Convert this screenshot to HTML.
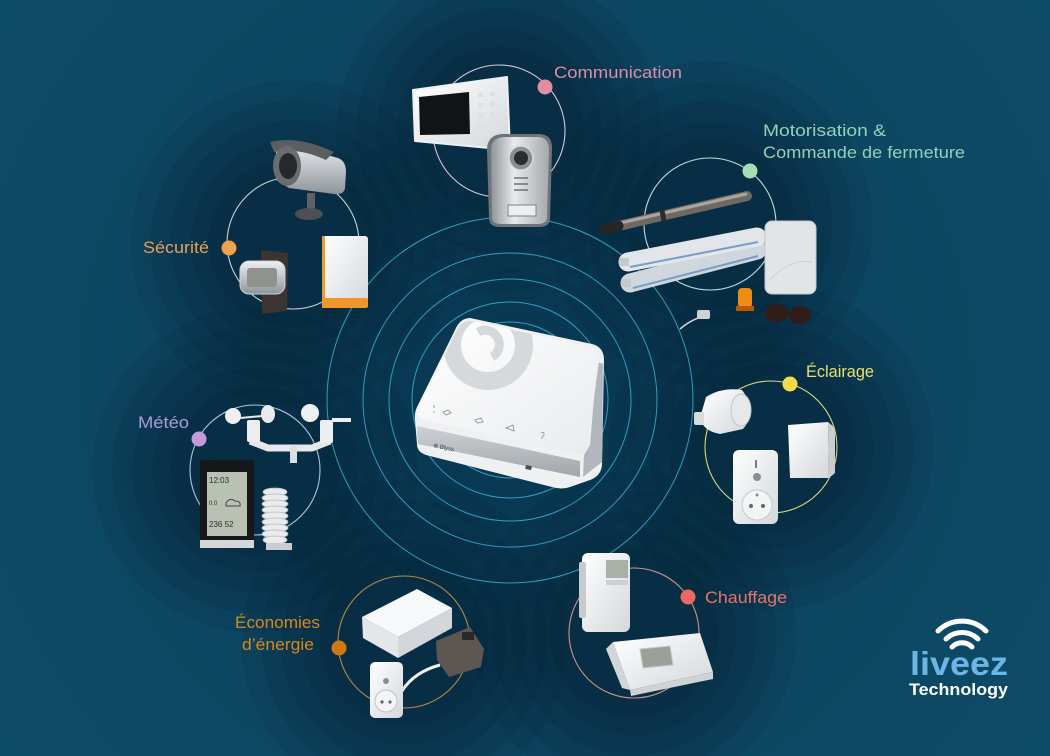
<!DOCTYPE html>
<html><head><meta charset="utf-8">
<style>
html,body{margin:0;padding:0;width:1050px;height:756px;overflow:hidden;}
body{
background:
 radial-gradient(circle at 499px 131px, rgba(0,26,44,.16) 84px, rgba(0,26,44,0) 85px),
 radial-gradient(circle at 499px 131px, rgba(0,26,44,.15) 102px, rgba(0,26,44,0) 103px),
 radial-gradient(circle at 499px 131px, rgba(0,26,44,.14) 122px, rgba(0,26,44,0) 123px),
 radial-gradient(circle at 499px 131px, rgba(0,26,44,.13) 142px, rgba(0,26,44,0) 143px),
 radial-gradient(circle at 499px 131px, rgba(0,26,44,.12) 162px, rgba(0,26,44,0) 163px),
 radial-gradient(circle at 293px 243px, rgba(0,26,44,.16) 84px, rgba(0,26,44,0) 85px),
 radial-gradient(circle at 293px 243px, rgba(0,26,44,.15) 102px, rgba(0,26,44,0) 103px),
 radial-gradient(circle at 293px 243px, rgba(0,26,44,.14) 122px, rgba(0,26,44,0) 123px),
 radial-gradient(circle at 293px 243px, rgba(0,26,44,.13) 142px, rgba(0,26,44,0) 143px),
 radial-gradient(circle at 293px 243px, rgba(0,26,44,.12) 162px, rgba(0,26,44,0) 163px),
 radial-gradient(circle at 710px 224px, rgba(0,26,44,.16) 84px, rgba(0,26,44,0) 85px),
 radial-gradient(circle at 710px 224px, rgba(0,26,44,.15) 102px, rgba(0,26,44,0) 103px),
 radial-gradient(circle at 710px 224px, rgba(0,26,44,.14) 122px, rgba(0,26,44,0) 123px),
 radial-gradient(circle at 710px 224px, rgba(0,26,44,.13) 142px, rgba(0,26,44,0) 143px),
 radial-gradient(circle at 710px 224px, rgba(0,26,44,.12) 162px, rgba(0,26,44,0) 163px),
 radial-gradient(circle at 771px 447px, rgba(0,26,44,.16) 84px, rgba(0,26,44,0) 85px),
 radial-gradient(circle at 771px 447px, rgba(0,26,44,.15) 102px, rgba(0,26,44,0) 103px),
 radial-gradient(circle at 771px 447px, rgba(0,26,44,.14) 122px, rgba(0,26,44,0) 123px),
 radial-gradient(circle at 771px 447px, rgba(0,26,44,.13) 142px, rgba(0,26,44,0) 143px),
 radial-gradient(circle at 771px 447px, rgba(0,26,44,.12) 162px, rgba(0,26,44,0) 163px),
 radial-gradient(circle at 255px 470px, rgba(0,26,44,.16) 84px, rgba(0,26,44,0) 85px),
 radial-gradient(circle at 255px 470px, rgba(0,26,44,.15) 102px, rgba(0,26,44,0) 103px),
 radial-gradient(circle at 255px 470px, rgba(0,26,44,.14) 122px, rgba(0,26,44,0) 123px),
 radial-gradient(circle at 255px 470px, rgba(0,26,44,.13) 142px, rgba(0,26,44,0) 143px),
 radial-gradient(circle at 255px 470px, rgba(0,26,44,.12) 162px, rgba(0,26,44,0) 163px),
 radial-gradient(circle at 404px 642px, rgba(0,26,44,.16) 84px, rgba(0,26,44,0) 85px),
 radial-gradient(circle at 404px 642px, rgba(0,26,44,.15) 102px, rgba(0,26,44,0) 103px),
 radial-gradient(circle at 404px 642px, rgba(0,26,44,.14) 122px, rgba(0,26,44,0) 123px),
 radial-gradient(circle at 404px 642px, rgba(0,26,44,.13) 142px, rgba(0,26,44,0) 143px),
 radial-gradient(circle at 404px 642px, rgba(0,26,44,.12) 162px, rgba(0,26,44,0) 163px),
 radial-gradient(circle at 634px 633px, rgba(0,26,44,.16) 84px, rgba(0,26,44,0) 85px),
 radial-gradient(circle at 634px 633px, rgba(0,26,44,.15) 102px, rgba(0,26,44,0) 103px),
 radial-gradient(circle at 634px 633px, rgba(0,26,44,.14) 122px, rgba(0,26,44,0) 123px),
 radial-gradient(circle at 634px 633px, rgba(0,26,44,.13) 142px, rgba(0,26,44,0) 143px),
 radial-gradient(circle at 634px 633px, rgba(0,26,44,.12) 162px, rgba(0,26,44,0) 163px),
 radial-gradient(circle at 510px 400px, rgba(0,26,44,.08) 130px, rgba(0,26,44,0) 131px),
 radial-gradient(circle at 510px 400px, rgba(0,26,44,.08) 165px, rgba(0,26,44,0) 166px),
 radial-gradient(circle at 510px 400px, rgba(0,26,44,.08) 205px, rgba(0,26,44,0) 206px),
 radial-gradient(circle at 525px 378px, #0b405b 0px, #0e4c68 700px);
background-color:#0d4864;
}
svg{display:block}
text{font-family:"Liberation Sans","DejaVu Sans",sans-serif;}
</style></head><body>
<svg width="1050" height="756" viewBox="0 0 1050 756" xmlns="http://www.w3.org/2000/svg">
<defs>
 <linearGradient id="wh" x1="0" y1="0" x2="1" y2="1"><stop offset="0" stop-color="#ffffff"/><stop offset="1" stop-color="#d3d8dc"/></linearGradient>
 <linearGradient id="sil" x1="0" y1="0" x2="0" y2="1"><stop offset="0" stop-color="#eef0f2"/><stop offset="0.5" stop-color="#bfc4c8"/><stop offset="1" stop-color="#8f9498"/></linearGradient>
 <linearGradient id="silh" x1="0" y1="0" x2="1" y2="0"><stop offset="0" stop-color="#8f9498"/><stop offset="0.4" stop-color="#e8eaec"/><stop offset="1" stop-color="#a4a9ad"/></linearGradient>
 <linearGradient id="band" x1="0" y1="0" x2="0" y2="1"><stop offset="0" stop-color="#cdd1d5"/><stop offset="1" stop-color="#a0a6ab"/></linearGradient>
 <linearGradient id="topg" x1="0" y1="0" x2="1" y2="1"><stop offset="0" stop-color="#ffffff"/><stop offset="1" stop-color="#e9ebed"/></linearGradient>
 <clipPath id="topclip"><path d="M472,321 L590,347 Q600,349 599,360 L588,445 Q586,456 575,454 L425,420 Q414,417 418,407 L457,330 Q462,320 472,321 Z"/></clipPath>
</defs>

<!-- central rings -->
<g fill="none" stroke="#3aaed0" stroke-width="1" stroke-opacity="0.85">
 <circle cx="510" cy="400" r="183"/>
 <circle cx="510" cy="400" r="147"/>
 <circle cx="510" cy="400" r="121"/>
 <circle cx="510" cy="400" r="98"/>
 <circle cx="510" cy="400" r="78"/>
</g>

<!-- group rings -->
<g fill="none" stroke-width="1.1">
 <circle cx="499" cy="131" r="66" stroke="#d6c8d6"/>
 <circle cx="293" cy="243" r="66" stroke="#cfd0ca"/>
 <circle cx="710" cy="224" r="66" stroke="#b8e0dc"/>
 <circle cx="771" cy="447" r="66" stroke="#d6dc7a"/>
 <circle cx="255" cy="470" r="65" stroke="#a8c6e2"/>
 <circle cx="404" cy="642" r="66" stroke="#b38a42"/>
 <circle cx="634" cy="633" r="65" stroke="#c8948e"/>
</g>

<!-- ===== Communication devices ===== -->
<polygon points="413,90 507,77 510,150 415,141" fill="url(#wh)" stroke="#eef0f2" stroke-width="2" stroke-linejoin="round"/>
<polygon points="419,97 469,92 470,134 420,135" fill="#121314"/>
<g fill="#dde1e4">
 <rect x="478" y="93" width="5" height="4"/><rect x="490" y="92" width="5" height="4"/>
 <rect x="478" y="103" width="5" height="4"/><rect x="490" y="102" width="5" height="4"/>
 <rect x="478" y="113" width="5" height="4"/><rect x="490" y="112" width="5" height="4"/>
 <rect x="478" y="123" width="5" height="4"/><rect x="490" y="122" width="5" height="4"/>
</g>
<path d="M487,150 Q487,135 502,134 L540,134 Q553,135 552,150 L550,220 Q549,227 538,227 L500,227 Q489,227 489,218 Z" fill="#6f7478"/>
<path d="M491,150 Q491,138 504,137 L539,137 Q549,138 549,150 L547,219 Q546,224 537,224 L501,224 Q492,224 492,217 Z" fill="url(#silh)"/>
<circle cx="521" cy="158" r="12" fill="#8a8e91" stroke="#d8dadc" stroke-width="1.5"/>
<circle cx="521" cy="158" r="7" fill="#2a2c2e"/>
<g stroke="#6c7074" stroke-width="1.5"><line x1="514" y1="178" x2="528" y2="178"/><line x1="514" y1="184" x2="528" y2="184"/><line x1="514" y1="190" x2="528" y2="190"/></g>
<rect x="508" y="205" width="28" height="11" fill="#eceff1" stroke="#7d8286"/>

<!-- ===== Sécurité devices ===== -->
<path d="M276,141 L338,158 Q346,161 346,172 L345,188 Q344,195 334,194 L289,188 L276,180 Z" fill="url(#sil)"/>
<path d="M270,142 Q298,135 334,152 L326,160 Q298,147 274,152 Z" fill="#5b5e61"/>
<ellipse cx="287" cy="166" rx="14" ry="20" fill="#6a6d70"/>
<ellipse cx="288" cy="166" rx="9" ry="13" fill="#262829"/>
<rect x="307" y="193" width="8" height="16" fill="#5f6265"/>
<ellipse cx="309" cy="214" rx="14" ry="6" fill="#4d5053"/>
<polygon points="261,250 288,253 287,311 262,314" fill="#3b3430"/>
<rect x="240" y="261" width="45" height="33" rx="9" fill="url(#sil)" stroke="#cfd2d4"/>
<rect x="247" y="268" width="30" height="19" rx="3" fill="#8e948d"/>
<rect x="322" y="236" width="46" height="72" rx="3" fill="url(#wh)"/>
<rect x="322" y="236" width="3" height="72" fill="#f09a2a"/>
<rect x="322" y="298" width="46" height="10" rx="2" fill="#f0962a"/>

<!-- ===== Motorisation devices ===== -->
<line x1="610" y1="228" x2="747" y2="196" stroke="#6f6964" stroke-width="10" stroke-linecap="round"/>
<line x1="612" y1="225" x2="746" y2="194" stroke="#aaa5a0" stroke-width="3" stroke-linecap="round"/>
<line x1="606" y1="229" x2="618" y2="226" stroke="#262626" stroke-width="11" stroke-linecap="round"/>
<line x1="662" y1="210" x2="664" y2="222" stroke="#2e2b29" stroke-width="5"/>
<line x1="630" y1="283" x2="757" y2="250" stroke="#cfd6dc" stroke-width="19" stroke-linecap="round"/>
<line x1="628" y1="262" x2="757" y2="237" stroke="#e2e6ea" stroke-width="19" stroke-linecap="round"/>
<line x1="630" y1="267" x2="758" y2="242" stroke="#7b9bcb" stroke-width="2"/>
<line x1="633" y1="288" x2="758" y2="256" stroke="#7b9bcb" stroke-width="2"/>
<rect x="619" y="258" width="10" height="8" fill="#c4c9ce"/>
<rect x="621" y="279" width="10" height="8" fill="#c4c9ce"/>
<rect x="765" y="221" width="51" height="73" rx="7" fill="#e2e5e8" stroke="#c3c7ca"/>
<path d="M770,280 Q790,258 812,262" fill="none" stroke="#cdd1d4"/>
<rect x="738" y="288" width="14" height="20" rx="4" fill="#f08c12"/>
<rect x="736" y="306" width="18" height="5" fill="#b55d00"/>
<ellipse cx="777" cy="313" rx="12" ry="9" fill="#2e1d1b"/>
<ellipse cx="800" cy="315" rx="11" ry="9" fill="#2e1d1b"/>
<rect x="697" y="310" width="13" height="9" rx="2" fill="#cdd1d5"/>
<path d="M698,318 Q688,322 680,329" fill="none" stroke="#cfd3d6" stroke-width="1.5"/>

<!-- ===== Éclairage devices ===== -->
<path d="M706,397 Q722,387 742,390 L749,400 Q753,418 743,429 L720,434 Q703,431 700,418 Z" fill="url(#wh)"/>
<ellipse cx="741" cy="410" rx="10" ry="16" fill="#e6e8ea" stroke="#c3c7cb"/>
<rect x="694" y="412" width="10" height="13" rx="2" fill="#d9dcdf"/>
<polygon points="788,425 828,422 829,478 790,478" fill="url(#wh)"/>
<polygon points="828,422 835,428 835,473 829,478" fill="#c9cdd0"/>
<rect x="733" y="450" width="45" height="74" rx="6" fill="url(#wh)"/>
<line x1="756" y1="460" x2="756" y2="468" stroke="#555" stroke-width="1.5"/>
<circle cx="757" cy="477" r="4" fill="#8a8e92"/>
<circle cx="757" cy="505" r="15" fill="#f3f4f5" stroke="#c6c9cc"/>
<circle cx="751" cy="506" r="2" fill="#666"/><circle cx="763" cy="506" r="2" fill="#666"/><circle cx="757" cy="495" r="1.5" fill="#888"/>

<!-- ===== Météo devices ===== -->
<polyline points="250,441 268,448 312,448 330,441" fill="none" stroke="#e6e8ea" stroke-width="7" stroke-linejoin="round"/>
<rect x="290" y="446" width="7" height="17" fill="#dcdfe2"/>
<rect x="247" y="420" width="13" height="22" rx="2" fill="#eceef0"/>
<rect x="320" y="420" width="13" height="23" rx="2" fill="#eceef0"/>
<circle cx="233" cy="416" r="8" fill="#eef0f2"/>
<ellipse cx="268" cy="414" rx="7" ry="9" fill="#e8eaec"/>
<circle cx="310" cy="413" r="9" fill="#eef0f2"/>
<rect x="332" y="418" width="19" height="4" fill="#eef0f2"/>
<line x1="240" y1="418" x2="262" y2="416" stroke="#e8eaec" stroke-width="2"/>
<rect x="200" y="460" width="54" height="88" rx="2" fill="#171819"/>
<rect x="207" y="472" width="40" height="64" fill="#b9c0b4"/>
<rect x="200" y="540" width="54" height="8" fill="#d4d6d8"/>
<text x="209" y="483" font-size="8" fill="#2b2e2b">12:03</text>
<text x="209" y="505" font-size="6" fill="#2b2e2b">0.0</text>
<path d="M226,503 q4,-6 9,-2 q6,0 5,5 h-14 z" fill="none" stroke="#444" stroke-width="1"/>
<text x="209" y="527" font-size="8" fill="#2b2e2b">236 52</text>
<g fill="#e9ebed" stroke="#b4b8bc" stroke-width="0.8">
 <ellipse cx="275" cy="492" rx="12" ry="4"/><ellipse cx="275" cy="498" rx="13" ry="4"/>
 <ellipse cx="275" cy="504" rx="13" ry="4"/><ellipse cx="275" cy="510" rx="13" ry="4"/>
 <ellipse cx="275" cy="516" rx="13" ry="4"/><ellipse cx="275" cy="522" rx="13" ry="4"/>
 <ellipse cx="275" cy="528" rx="13" ry="4"/><ellipse cx="275" cy="534" rx="13" ry="4"/>
 <ellipse cx="275" cy="540" rx="12" ry="4"/>
</g>
<rect x="266" y="543" width="26" height="7" fill="#c9ccd0"/>

<!-- ===== Économies devices ===== -->
<polygon points="363,638 398,658 398,637 362,617" fill="#e4e7ea"/>
<polygon points="398,658 452,628 452,608 398,637" fill="#d3d7db"/>
<polygon points="362,617 417,589 452,608 398,637" fill="#f7f8f9"/>
<polygon points="436,641 470,627 484,649 481,667 449,677 437,660" fill="#5d5652"/>
<rect x="462" y="632" width="12" height="8" fill="#2c2826"/>
<path d="M402,691 Q414,672 440,665" fill="none" stroke="#f0f1f2" stroke-width="3"/>
<rect x="370" y="662" width="33" height="56" rx="5" fill="url(#wh)"/>
<circle cx="386" cy="681" r="3" fill="#8a8e92"/>
<circle cx="386" cy="701" r="11" fill="#f3f4f5" stroke="#bfc3c6"/>
<circle cx="382" cy="702" r="1.6" fill="#666"/><circle cx="390" cy="702" r="1.6" fill="#666"/>

<!-- ===== Chauffage devices ===== -->
<rect x="582" y="553" width="48" height="79" rx="6" fill="url(#wh)"/>
<rect x="579" y="562" width="7" height="56" rx="2" fill="#c7cbcf"/>
<rect x="606" y="560" width="22" height="18" fill="#a9b0a7"/>
<rect x="606" y="580" width="22" height="5" fill="#cdd0d3"/>
<polygon points="606,649 613,642 630,690 622,688" fill="#d2d6da"/>
<polygon points="613,642 700,633 713,672 630,690" fill="url(#wh)"/>
<polygon points="630,690 713,672 713,679 631,696" fill="#cfd3d6"/>
<polygon points="640,649 670,646 673,665 643,668" fill="#99a199" stroke="#c4c8cb"/>

<!-- ===== HUB ===== -->
<path d="M470,318 L592,344 Q604,347 604,360 L602,465 Q601,476 590,480 L570,487 Q562,490 552,487 L426,455 Q417,452 417,444 L415,420 Q414,412 418,405 L455,330 Q460,318 470,318 Z" fill="#eef0f2"/>
<path d="M417,426 L580,461 L580,477 L418,444 Z" fill="url(#band)"/>
<path d="M597,362 L603,364 L602,462 L583,477 L584,455 L590,445 Z" fill="#b1b7bc"/>
<path d="M472,321 L590,347 Q600,349 599,360 L588,445 Q586,456 575,454 L425,420 Q414,417 418,407 L457,330 Q462,320 472,321 Z" fill="url(#topg)"/>
<g clip-path="url(#topclip)" fill="none" stroke="#d6d9dc">
 <circle cx="488" cy="345" r="36" stroke-width="18"/>
 <path d="M478,332 A13,13 0 1 1 492,357" stroke-width="9"/>
</g>
<g stroke="#9aa0a5" stroke-width="1" fill="none">
 <path d="M434,405 l0,3 M434,411 l0,2"/>
 <path d="M443,412 l5,-2 l3,3 l-5,2 z"/>
 <path d="M475,420 l6,-2 l2,4 l-6,1 z"/>
 <path d="M506,428 l7,-3 l1,6 z"/>
 <path d="M541,433 q3,-2 3,1 q0,2 -2,3 l0,2"/>
</g>
<text x="433" y="447" font-size="6" fill="#3b3f42" transform="rotate(12 433 447)">⊕ Blyss</text>
<rect x="526" y="465" width="6" height="4" fill="#4a4f53" transform="rotate(12 526 465)"/>

<!-- dots -->
<circle cx="545" cy="87" r="7.5" fill="#e08ea2"/>
<circle cx="229" cy="248" r="7.5" fill="#f0a050"/>
<circle cx="750" cy="171" r="7.5" fill="#a6dcb6"/>
<circle cx="790" cy="384" r="7.5" fill="#f5da4a"/>
<circle cx="199" cy="439" r="7.5" fill="#c49ad8"/>
<circle cx="339" cy="648" r="7.5" fill="#d07812"/>
<circle cx="688" cy="597" r="7.5" fill="#ea6a62"/>

<!-- labels -->
<g font-size="17">
 <text x="554" y="78" fill="#dc8caa" textLength="128" lengthAdjust="spacingAndGlyphs">Communication</text>
 <text x="143" y="253" fill="#ea9e58" textLength="66" lengthAdjust="spacingAndGlyphs">Sécurité</text>
 <text x="763" y="136" fill="#8fd4b8" textLength="123" lengthAdjust="spacingAndGlyphs">Motorisation &amp;</text>
 <text x="763" y="158" fill="#8fd4b8" textLength="202" lengthAdjust="spacingAndGlyphs">Commande de fermeture</text>
 <text x="806" y="377" fill="#e6e26c" textLength="68" lengthAdjust="spacingAndGlyphs">Éclairage</text>
 <text x="138" y="428" fill="#aa9cd8" textLength="51" lengthAdjust="spacingAndGlyphs">Météo</text>
 <text x="235" y="628" fill="#d6881f" textLength="85" lengthAdjust="spacingAndGlyphs">Économies</text>
 <text x="242" y="650" fill="#d6881f" textLength="72" lengthAdjust="spacingAndGlyphs">d’énergie</text>
 <text x="705" y="603" fill="#ea736c" textLength="82" lengthAdjust="spacingAndGlyphs">Chauffage</text>
</g>

<!-- liveez logo -->
<g fill="none" stroke="#ffffff" stroke-width="5" stroke-linecap="round">
 <path d="M938,631 A34,34 0 0 1 986,631"/>
 <path d="M946,639 A23,23 0 0 1 978,639"/>
 <path d="M952,647 A14,14 0 0 1 972,647"/>
</g>
<text x="910" y="675" font-size="33" font-weight="bold" fill="#6cb6e6" textLength="98" lengthAdjust="spacingAndGlyphs">liveez</text>
<text x="909" y="695" font-size="17" font-weight="bold" fill="#ffffff" textLength="99" lengthAdjust="spacingAndGlyphs">Technology</text>
</svg>
</body></html>
